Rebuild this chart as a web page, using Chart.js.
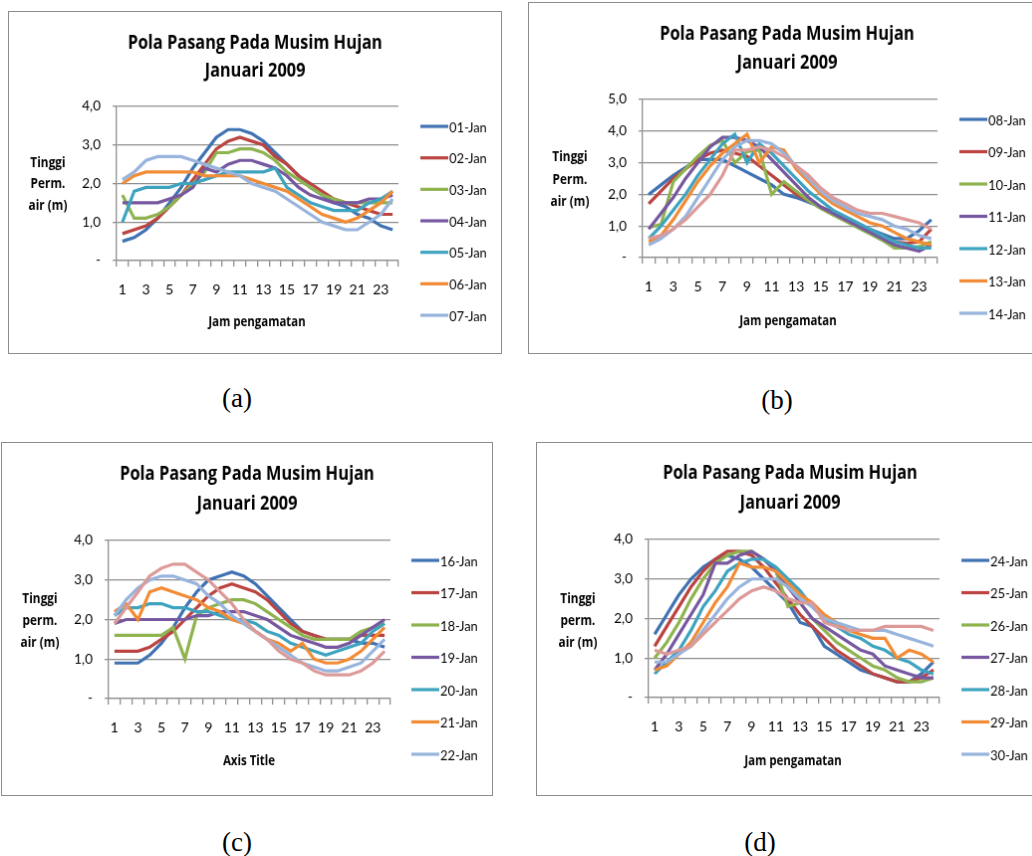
<!DOCTYPE html>
<html>
<head>
<meta charset="utf-8">
<script src="https://cdn.jsdelivr.net/npm/chart.js@4.4.1/dist/chart.umd.min.js"></script>
<style>
  body { margin: 0; width: 1032px; height: 856px; overflow: hidden; position: relative; background: #fff; }
  canvas.panel { position: absolute; border: 1px solid #8c8c8c; background: #fff; }
  .cap { position: absolute; font-family: 'Liberation Serif', 'Times New Roman', serif; font-size: 27px; transform: translate(-50%, -50%); color: #000; }
</style>
</head>
<body>
<canvas id="chartA" class="panel" width="494" height="343" style="left:8px;top:11px"></canvas>
<canvas id="chartB" class="panel" width="530" height="352" style="left:528px;top:2px"></canvas>
<canvas id="chartC" class="panel" width="492" height="354" style="left:1px;top:442px"></canvas>
<canvas id="chartD" class="panel" width="530" height="354" style="left:536px;top:442px"></canvas>
<div class="cap" style="left:237px;top:398px">(a)</div>
<div class="cap" style="left:777px;top:400px">(b)</div>
<div class="cap" style="left:237px;top:842px">(c)</div>
<div class="cap" style="left:760px;top:842px">(d)</div>
<script>
'use strict';

const hours = [1,2,3,4,5,6,7,8,9,10,11,12,13,14,15,16,17,18,19,20,21,22,23,24];
const titleLines = ['Pola Pasang Pada Musim Hujan', 'Januari 2009'];
const lineColors = ['#3f72b3', '#bb4441', '#8fb34f', '#7758a0', '#3ea3bf', '#f28b35', '#98b4dd', '#dc9a98'];

// (a) 01 - 07 Jan
const jan01 = [0.5,0.6,0.8,1.1,1.5,1.9,2.4,2.8,3.2,3.4,3.4,3.3,3.1,2.8,2.5,2.2,1.9,1.7,1.5,1.4,1.2,1.1,0.9,0.8];
const jan02 = [0.7,0.8,0.9,1.1,1.4,1.7,2.1,2.5,2.9,3.1,3.2,3.1,3.0,2.7,2.5,2.2,2.0,1.8,1.6,1.5,1.4,1.3,1.2,1.2];
const jan03 = [1.7,1.1,1.1,1.2,1.4,1.7,2.0,2.3,2.8,2.8,2.9,2.9,2.8,2.6,2.3,2.1,1.9,1.7,1.6,1.5,1.5,1.5,1.5,1.5];
const jan04 = [1.5,1.5,1.5,1.5,1.6,1.7,1.9,2.4,2.3,2.5,2.6,2.6,2.5,2.4,2.2,1.9,1.7,1.6,1.5,1.5,1.5,1.6,1.6,1.7];
const jan05 = [1.0,1.8,1.9,1.9,1.9,2.0,2.0,2.1,2.2,2.3,2.3,2.3,2.3,2.4,1.9,1.7,1.5,1.4,1.3,1.3,1.3,1.5,1.6,1.8];
const jan06 = [2.0,2.2,2.3,2.3,2.3,2.3,2.3,2.2,2.2,2.2,2.2,2.1,2.0,1.9,1.8,1.6,1.4,1.2,1.1,1.0,1.1,1.3,1.5,1.8];
const jan07 = [2.1,2.3,2.6,2.7,2.7,2.7,2.6,2.5,2.4,2.3,2.2,2.0,1.9,1.8,1.6,1.4,1.2,1.0,0.9,0.8,0.8,1.0,1.2,1.6];

// (b) 08 - 15 Jan
const jan08 = [2.0,2.3,2.6,2.85,3.1,3.1,3.1,2.9,2.7,2.5,2.3,2.0,1.9,1.75,1.6,1.45,1.25,1.05,0.9,0.75,0.6,0.6,0.85,1.2];
const jan09 = [1.7,2.1,2.5,2.8,3.1,3.3,3.4,3.3,3.2,2.9,2.6,2.3,2.0,1.8,1.6,1.4,1.2,1.0,0.85,0.7,0.5,0.45,0.5,0.9];
const jan10 = [0.95,1.05,2.4,2.8,3.2,3.55,3.7,3.0,3.35,3.4,2.0,2.4,2.1,1.8,1.55,1.35,1.15,0.95,0.75,0.55,0.3,0.3,0.35,0.5];
const jan11 = [0.9,1.4,1.9,2.5,3.0,3.5,3.8,3.8,3.7,3.5,3.1,2.7,2.3,1.9,1.6,1.4,1.2,1.0,0.8,0.6,0.4,0.3,0.2,0.4];
const jan12 = [0.6,1.0,1.5,2.0,2.6,3.1,3.6,3.9,3.0,3.6,3.3,2.9,2.5,2.1,1.8,1.5,1.3,1.1,0.9,0.7,0.5,0.4,0.3,0.3];
const jan13 = [0.5,0.7,1.2,1.8,2.4,2.9,3.3,3.6,3.9,3.0,3.5,3.4,2.8,2.4,2.0,1.7,1.5,1.3,1.1,1.0,0.8,0.6,0.5,0.4];
const jan14 = [0.4,0.6,0.9,1.3,1.9,2.5,3.1,3.5,3.7,3.7,3.6,3.3,2.9,2.5,2.1,1.8,1.6,1.4,1.3,1.2,1.0,0.9,0.7,0.6];
const jan15 = [0.6,0.7,0.9,1.2,1.6,2.0,2.6,3.4,3.4,3.5,3.4,3.2,2.9,2.6,2.2,1.9,1.7,1.5,1.4,1.4,1.3,1.2,1.1,0.9];

// (c) 16 - 23 Jan
const jan16 = [0.9,0.9,0.9,1.1,1.4,1.8,2.3,2.7,3.0,3.1,3.2,3.1,2.9,2.6,2.3,2.0,1.7,1.6,1.5,1.5,1.5,1.4,1.4,1.3];
const jan17 = [1.2,1.2,1.2,1.3,1.5,1.7,2.0,2.3,2.6,2.8,2.9,2.8,2.7,2.5,2.2,1.9,1.7,1.6,1.5,1.5,1.5,1.6,1.6,1.6];
const jan18 = [1.6,1.6,1.6,1.6,1.6,1.8,1.0,2.1,2.3,2.4,2.5,2.5,2.4,2.2,2.0,1.8,1.6,1.5,1.5,1.5,1.5,1.7,1.8,1.9];
const jan19 = [1.9,2.0,2.0,2.0,2.0,2.0,2.0,2.1,2.1,2.2,2.2,2.2,2.1,2.0,1.8,1.6,1.5,1.4,1.3,1.3,1.4,1.6,1.8,2.0];
const jan20 = [2.1,2.3,2.3,2.4,2.4,2.3,2.3,2.2,2.2,2.1,2.0,2.0,1.9,1.7,1.6,1.4,1.3,1.2,1.1,1.2,1.3,1.4,1.7,1.9];
const jan21 = [2.2,2.4,2.0,2.7,2.8,2.7,2.6,2.5,2.3,2.2,2.0,1.9,1.7,1.5,1.4,1.2,1.4,1.0,0.9,0.9,1.0,1.2,1.5,1.8];
const jan22 = [2.1,2.5,2.8,3.0,3.1,3.1,3.0,2.9,2.6,2.4,2.1,1.9,1.7,1.5,1.3,1.1,0.9,0.8,0.7,0.7,0.8,0.9,1.2,1.5];
const jan23 = [1.9,2.3,2.7,3.1,3.3,3.4,3.4,3.2,3.0,2.7,2.4,2.0,1.7,1.5,1.2,1.0,0.9,0.7,0.6,0.6,0.6,0.7,0.9,1.2];

// (d) 24 - 31 Jan
const jan24 = [1.6,2.1,2.6,3.0,3.3,3.5,3.6,3.5,3.3,3.0,2.7,2.4,1.9,1.8,1.3,1.1,0.9,0.7,0.6,0.5,0.4,0.4,0.6,0.9];
const jan25 = [1.3,1.8,2.3,2.8,3.2,3.5,3.7,3.7,3.6,3.3,2.9,2.5,2.1,1.8,1.5,1.2,1.0,0.8,0.6,0.5,0.4,0.4,0.5,0.7];
const jan26 = [1.0,1.4,1.9,2.5,3.0,3.4,3.6,3.7,3.7,3.5,3.2,2.3,2.4,2.0,1.7,1.4,1.2,1.0,0.8,0.7,0.5,0.4,0.4,0.5];
const jan27 = [0.7,1.1,1.6,2.1,2.6,3.4,3.4,3.6,3.7,3.5,3.2,2.8,2.4,2.0,1.8,1.6,1.4,1.2,1.1,0.8,0.7,0.6,0.5,0.5];
const jan28 = [0.6,0.9,1.2,1.7,2.3,2.7,3.2,3.4,3.5,3.5,3.3,3.0,2.7,2.3,2.0,1.8,1.6,1.5,1.3,1.2,1.0,0.9,0.7,0.6];
const jan29 = [0.7,0.8,1.1,1.4,1.9,2.4,2.8,3.4,3.3,3.3,3.2,2.9,2.6,2.4,2.1,1.9,1.7,1.6,1.5,1.5,1.0,1.2,1.1,0.9];
const jan30 = [0.9,0.9,1.1,1.3,1.7,2.1,2.5,2.8,3.0,3.0,3.0,2.8,2.5,2.3,2.0,1.9,1.8,1.7,1.7,1.7,1.6,1.5,1.4,1.3];
const jan31 = [1.2,1.1,1.2,1.3,1.6,1.9,2.2,2.5,2.7,2.8,2.7,2.5,2.4,2.4,1.9,1.8,1.7,1.7,1.7,1.8,1.8,1.8,1.8,1.7];

const namesA = ['01-Jan','02-Jan','03-Jan','04-Jan','05-Jan','06-Jan','07-Jan'];
const namesB = ['08-Jan','09-Jan','10-Jan','11-Jan','12-Jan','13-Jan','14-Jan','15-Jan'];
const namesC = ['16-Jan','17-Jan','18-Jan','19-Jan','20-Jan','21-Jan','22-Jan','23-Jan'];
const namesD = ['24-Jan','25-Jan','26-Jan','27-Jan','28-Jan','29-Jan','30-Jan','31-Jan'];

const fontFamily = 'Lato, "Open Sans", sans-serif';
const boldFamily = '"Open Sans", Lato, sans-serif';
const gridGray = '#8e8e8e';

// narrow text like the squeezed Calibri of the original
function squeezedText(ctx, text, x, y, sx, align) {
  ctx.save();
  ctx.translate(x, y);
  ctx.scale(sx, 1);
  ctx.textAlign = align;
  ctx.fillText(text, 0, 0);
  ctx.restore();
}

// titles, horizontal y title and the legend as Excel lays them out
const excelFrame = {
  id: 'excelFrame',
  afterDraw(chart, args, opts) {
    const ctx = chart.ctx;
    ctx.save();
    ctx.fillStyle = '#000';
    ctx.textBaseline = 'middle';
    ctx.font = 'bold 20px ' + boldFamily;
    titleLines.forEach((t, i) => squeezedText(ctx, t, opts.titleX, opts.titleY[i], 0.82, 'center'));
    ctx.font = 'bold 14.5px ' + boldFamily;
    opts.yTitle.forEach((t, i) => squeezedText(ctx, t, opts.yTitleX, opts.yTitleY[i], 0.82, 'center'));
    ctx.font = 'bold 14px ' + boldFamily;
    squeezedText(ctx, opts.xTitle, opts.xTitleX, opts.xTitleY, 0.82, 'center');

    ctx.font = '14px ' + fontFamily;
    chart.data.datasets.slice(0, 7).forEach((ds, i) => {
      const y = opts.legendY + i * opts.legendStep;
      ctx.strokeStyle = ds.borderColor;
      ctx.lineWidth = 3.2;
      ctx.beginPath();
      ctx.moveTo(opts.legendX, y);
      ctx.lineTo(opts.legendX + 28, y);
      ctx.stroke();
      squeezedText(ctx, ds.label, opts.legendX + 29, y + 1, 0.92, 'left');
    });
    ctx.restore();
  }
};

function makeChart(id, names, series, yMax, plot, frame) {
  const canvas = document.getElementById(id);
  const W = canvas.width, H = canvas.height;
  const xAxisH = 40;
  const n = series.length;

  const datasets = series.map((values, i) => ({
    label: names[i],
    data: values,
    borderColor: lineColors[i],
    backgroundColor: lineColors[i],
    borderWidth: 3.2,
    pointRadius: 0,
    tension: 0,
    fill: false,
    order: n - i
  }));

  return new Chart(canvas, {
    type: 'line',
    data: { labels: hours, datasets: datasets },
    plugins: [excelFrame],
    options: {
      responsive: false,
      animation: false,
      events: [],
      layout: {
        padding: { left: 0, top: plot.t, right: W - plot.r, bottom: H - plot.b - xAxisH }
      },
      plugins: {
        legend: { display: false },
        title: { display: false },
        tooltip: { enabled: false },
        excelFrame: frame
      },
      scales: {
        x: {
          offset: true,
          afterFit: (scale) => { scale.height = xAxisH; },
          border: { display: true, color: gridGray, width: 1.3 },
          grid: { offset: true, drawOnChartArea: false, drawTicks: true, tickLength: 6, color: gridGray, lineWidth: 1.3 },
          ticks: {
            autoSkip: false,
            maxRotation: 0,
            padding: 15,
            color: '#000',
            font: { family: fontFamily, size: 14 },
            callback: function (val, index) { return index % 2 === 0 ? this.getLabelForValue(val) : ''; }
          }
        },
        y: {
          min: 0,
          max: yMax,
          afterFit: (scale) => { scale.width = plot.l; },
          border: { display: true, color: gridGray, width: 1.3 },
          grid: { color: gridGray, lineWidth: 1.3, tickLength: 4 },
          ticks: {
            stepSize: 1,
            padding: 12,
            color: '#000',
            font: { family: fontFamily, size: 13.5 },
            callback: (v) => v === 0 ? '-' : v.toFixed(1).replace('.', ',')
          }
        }
      }
    }
  });
}

makeChart('chartA', namesA, [jan01, jan02, jan03, jan04, jan05, jan06, jan07], 4,
  { l: 108, t: 95, r: 391, b: 250 },
  { titleX: 247, titleY: [31, 59], yTitle: ['Tinggi', 'Perm.', 'air (m)'], yTitleX: 39, yTitleY: [152, 173, 195],
    xTitle: 'Jam pengamatan', xTitleX: 249, xTitleY: 312, legendX: 413, legendY: 115, legendStep: 31.67 });

makeChart('chartB', namesB, [jan08, jan09, jan10, jan11, jan12, jan13, jan14, jan15], 5,
  { l: 114, t: 97, r: 410, b: 256 },
  { titleX: 259, titleY: [31, 60], yTitle: ['Tinggi', 'Perm.', 'air (m)'], yTitleX: 41, yTitleY: [155, 178, 200],
    xTitle: 'Jam pengamatan', xTitleX: 260, xTitleY: 320, legendX: 432, legendY: 117, legendStep: 32.5 });

makeChart('chartC', namesC, [jan16, jan17, jan18, jan19, jan20, jan21, jan22, jan23], 4,
  { l: 107, t: 98, r: 390, b: 257 },
  { titleX: 246, titleY: [31, 61], yTitle: ['Tinggi', 'perm.', 'air (m)'], yTitleX: 38, yTitleY: [157, 179, 201],
    xTitle: 'Axis Title', xTitleX: 248, xTitleY: 320, legendX: 411, legendY: 118, legendStep: 32.5 });

makeChart('chartD', namesD, [jan24, jan25, jan26, jan27, jan28, jan29, jan30, jan31], 4,
  { l: 112, t: 97, r: 404, b: 256 },
  { titleX: 254, titleY: [30, 60], yTitle: ['Tinggi', 'perm.', 'air (m)'], yTitleX: 41, yTitleY: [157, 179, 201],
    xTitle: 'Jam pengamatan', xTitleX: 257, xTitleY: 320, legendX: 426, legendY: 118, legendStep: 32.5 });
</script>
</body>
</html>
